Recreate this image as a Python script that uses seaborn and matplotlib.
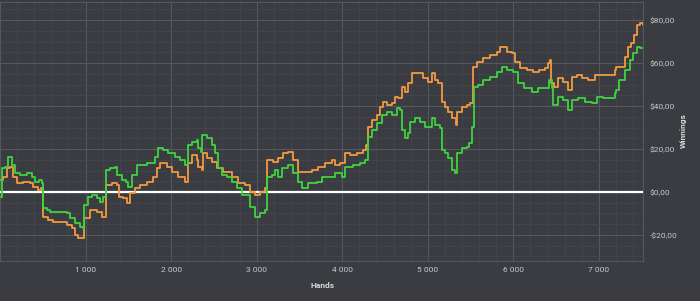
import numpy as np
import pandas as pd
import matplotlib
matplotlib.use("Agg")
import matplotlib.pyplot as plt
from matplotlib.ticker import FuncFormatter, MultipleLocator
import seaborn as sns

green_hands = [10, 25, 60, 95, 115, 140, 175, 235, 315, 375, 410, 455, 490, 500, 550, 585, 735, 780, 820, 875, 935, 970,
               980, 1030, 1075, 1135, 1170, 1205, 1240, 1285, 1345, 1365, 1425, 1470, 1495, 1540, 1600, 1660, 1715, 1775,
               1810, 1845, 1905, 1960, 2045, 2100, 2160, 2195, 2245, 2300, 2315, 2350, 2360, 2420, 2475, 2510, 2545, 2595,
               2650, 2710, 2770, 2825, 2885, 2920, 2980, 3035, 3095, 3120, 3175, 3210, 3245, 3295, 3365, 3420, 3480, 3530,
               3600, 3705, 3760, 3830, 3915, 3995, 4030, 4125, 4205, 4265, 4300, 4345, 4405, 4460, 4520, 4580, 4640, 4675,
               4695, 4730, 4765, 4790, 4850, 4905, 4965, 5020, 5045, 5080, 5140, 5165, 5200, 5235, 5280, 5315, 5340, 5395,
               5455, 5480, 5515, 5535, 5585, 5640, 5725, 5805, 5865, 5920, 5990, 6050, 6130, 6215, 6285, 6365, 6415, 6450,
               6460, 6520, 6575, 6635, 6680, 6750, 6835, 6915, 6975, 7045, 7150, 7185, 7205, 7240, 7300, 7360, 7395, 7440,
               7475, 7510]
green_won = [-2.3, 11.2, 11.6, 16.3, 16.3, 12.6, 8.8, 7.9, 8.8, 7.0, 4.7, 5.6, 4.2, -7.4, -8.4, -9.3, -9.3, -9.8, -12.1,
             -14.4, -16.3, -16.7, -6.0, -2.3, -1.4, -2.8, -4.7, -2.3, 10.2, 11.2, 11.6, 7.9, 5.6, 4.7, 2.3, 7.9, 12.6, 12.6,
             13.5, 13.5, 16.3, 20.5, 19.5, 18.1, 16.3, 14.9, 12.6, 21.9, 23.3, 24.2, 20.5, 18.6, 26.5, 25.1, 21.9, 18.1,
             11.2, 7.9, 7.0, 4.7, 1.9, -1.4, -1.4, -7.0, -11.6, -9.8, -8.4, 7.0, 7.9, 10.2, 7.0, 11.2, 12.6, 8.8, 4.7, 1.9,
             4.2, 4.7, 7.0, 7.0, 8.8, 7.0, 11.6, 12.6, 13.5, 14.9, 25.6, 28.8, 32.1, 35.8, 37.2, 35.8, 39.1, 38.1, 28.8,
             25.1, 27.4, 32.6, 34.4, 32.6, 30.2, 30.2, 34.4, 31.2, 29.8, 19.5, 18.1, 15.8, 10.2, 8.8, 18.1, 20.5, 20.9,
             22.8, 30.2, 48.8, 49.8, 52.1, 53.5, 55.8, 58.1, 56.7, 55.8, 50.7, 48.4, 46.5, 48.4, 48.4, 52.1, 48.4, 40.5,
             44.2, 42.8, 38.1, 42.8, 43.7, 41.9, 41.4, 44.2, 43.7, 43.7, 46.0, 47.4, 52.1, 56.7, 61.4, 64.6, 67.4, 67.0,
             67.0]

orange_hands = [10, 35, 80, 115, 150, 200, 270, 350, 385, 445, 480, 500, 560, 620, 735, 780, 840, 875, 910, 970, 980, 1050,
                1135, 1190, 1240, 1310, 1365, 1390, 1435, 1480, 1520, 1575, 1635, 1715, 1785, 1835, 1870, 1950, 2010, 2080,
                2160, 2195, 2245, 2300, 2315, 2360, 2370, 2420, 2475, 2535, 2605, 2710, 2780, 2860, 2920, 2980, 3035, 3095,
                3120, 3190, 3245, 3305, 3365, 3420, 3480, 3560, 3645, 3715, 3795, 3880, 3915, 3970, 4030, 4090, 4170, 4240,
                4275, 4300, 4345, 4405, 4440, 4475, 4520, 4580, 4615, 4650, 4695, 4730, 4765, 4815, 4885, 4940, 5000, 5045,
                5080, 5115, 5165, 5200, 5235, 5280, 5325, 5340, 5395, 5455, 5490, 5525, 5570, 5640, 5725, 5805, 5840, 5875,
                5920, 5980, 6015, 6075, 6155, 6225, 6305, 6365, 6400, 6425, 6435, 6480, 6520, 6575, 6635, 6680, 6740, 6800,
                6870, 6950, 7045, 7125, 7185, 7205, 7265, 7300, 7335, 7380, 7415, 7440, 7475, 7510]
orange_won = [5.6, 7.0, 11.2, 11.6, 7.0, 4.2, 4.7, 4.2, 2.3, 0.9, 1.9, -11.6, -13.0, -14.0, -14.0, -15.3, -16.7, -20.0,
              -21.4, -21.4, -12.1, -8.4, -9.3, -11.6, 3.3, 4.2, 3.3, -2.3, -2.8, -5.1, -0.5, 1.9, 3.3, 4.7, 7.0, 11.2, 13.5,
              11.6, 9.3, 7.0, 4.7, 13.5, 17.2, 14.9, 11.6, 10.2, 18.1, 15.8, 14.0, 11.2, 9.3, 7.0, 4.2, 3.3, 0.0, -1.4, 0.0,
              1.9, 14.9, 14.0, 15.8, 18.1, 18.6, 14.9, 9.3, 9.3, 10.2, 11.6, 13.5, 14.9, 12.6, 13.5, 18.1, 17.2, 18.1, 19.5,
              21.9, 30.2, 33.5, 35.8, 39.5, 41.9, 40.5, 41.4, 44.2, 43.7, 48.8, 46.5, 50.7, 55.3, 55.3, 53.0, 51.2, 55.3,
              52.1, 50.7, 41.9, 39.5, 37.2, 34.4, 31.2, 37.2, 39.5, 40.5, 41.4, 58.1, 60.5, 62.3, 63.7, 65.1, 67.4, 67.4,
              65.1, 64.6, 60.5, 57.7, 56.7, 55.8, 56.7, 57.7, 60.0, 61.4, 50.7, 48.8, 53.0, 51.2, 47.4, 53.5, 54.4, 53.0,
              52.1, 54.4, 54.4, 54.4, 56.7, 58.1, 58.1, 62.8, 67.4, 69.3, 73.0, 77.7, 78.6, 77.7]

x_ticks = [1000, 2000, 3000, 4000, 5000, 6000, 7000]
y_ticks = [-20, 0, 20, 40, 60, 80]

BG = "#3a3c41"
GRID = "#55585e"
MINOR = "#43464b"
TXT = "#c8c8c8"
GREEN = "#3fd43f"
ORANGE = "#f29a3e"

sns.set_theme(style="dark")
plt.rcParams["font.family"] = ["Roboto", "DejaVu Sans"]

fig = plt.figure(figsize=(7.0, 3.01), dpi=100, facecolor=BG)
ax = fig.add_axes([0.0, 40 / 301, 643 / 700, 259 / 301])
ax.set_facecolor(BG)

dg = pd.DataFrame({"Hands": green_hands, "Winnings": green_won})
do = pd.DataFrame({"Hands": orange_hands, "Winnings": orange_won})

ax.axhline(0, color="white", lw=1.6, zorder=3)
sns.lineplot(data=do, x="Hands", y="Winnings", ax=ax, color=ORANGE, lw=1.3,
             drawstyle="steps-post", estimator=None, sort=False, zorder=4)
sns.lineplot(data=dg, x="Hands", y="Winnings", ax=ax, color=GREEN, lw=1.3,
             drawstyle="steps-post", estimator=None, sort=False, zorder=5)

ax.set_xlim(0, 7515)
ax.set_ylim(-32.1, 88.4)
ax.set_xticks(x_ticks)
ax.set_yticks(y_ticks)
ax.xaxis.set_minor_locator(MultipleLocator(200))
ax.yaxis.set_minor_locator(MultipleLocator(5))
ax.xaxis.set_major_formatter(FuncFormatter(lambda v, p: f"{int(v):,}".replace(",", " ")))

def money(v, p):
    s = f"${abs(v):.2f}".replace(".", ",")
    return ("-" + s) if v < 0 else s

ax.yaxis.set_major_formatter(FuncFormatter(money))
ax.yaxis.tick_right()
ax.yaxis.set_label_position("right")
ax.grid(which="major", color=GRID, lw=0.8)
ax.grid(which="minor", color=MINOR, lw=0.6)
ax.set_axisbelow(True)
ax.tick_params(axis="both", which="both", length=0, colors=TXT, labelsize=6)
ax.tick_params(axis="x", pad=4)
ax.tick_params(axis="y", pad=5)
for s in ax.spines.values():
    s.set_color(GRID)
    s.set_linewidth(0.8)

ax.set_xlabel("Hands", color="#d8d8d8", fontsize=6, fontweight="bold")
ax.set_ylabel("Winnings", color="#d8d8d8", fontsize=6, fontweight="bold")
ax.xaxis.set_label_coords(322 / 643, -(285 - 261) / 259)
ax.xaxis.label.set_va("center")
ax.yaxis.set_label_coords(683 / 643, (261 - 131) / 259)
ylab = ax.yaxis.label
ylab.set_rotation_mode("default")
ylab.set_ha("center")
ylab.set_va("center")

fig.savefig("out.png", dpi=100, facecolor=BG)
